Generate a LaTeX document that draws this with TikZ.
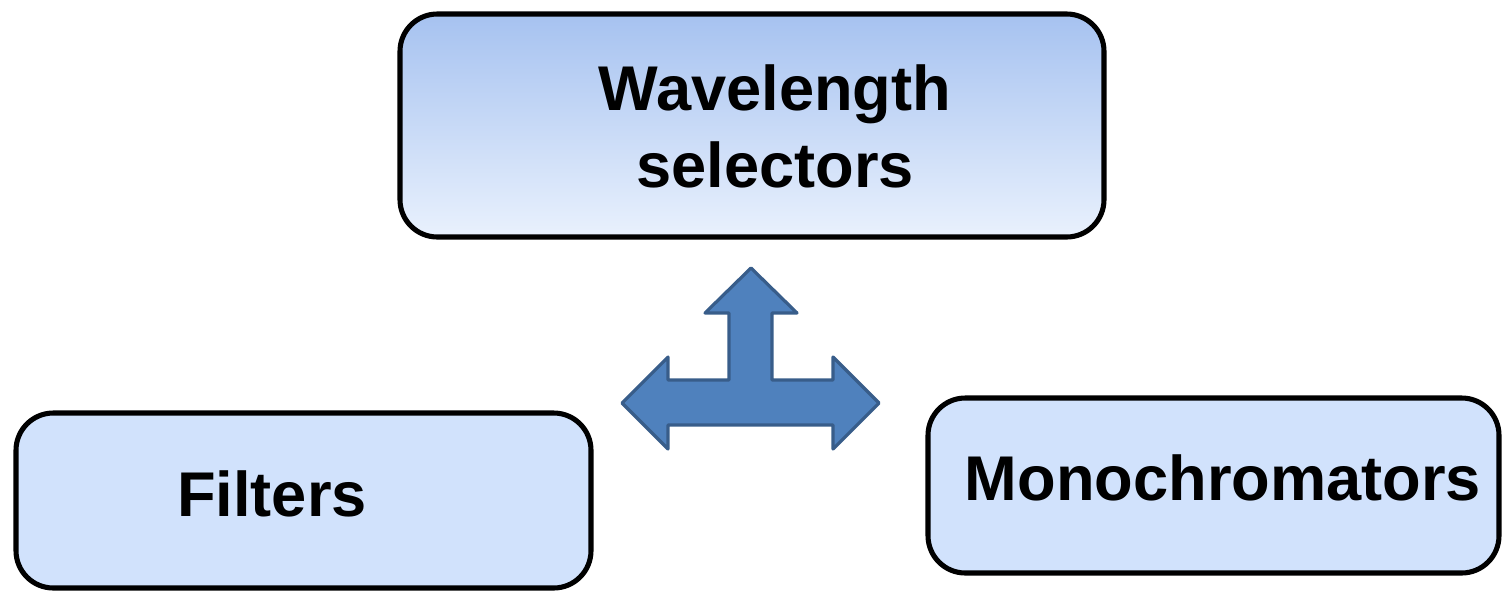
\documentclass[tikz,border=0pt]{standalone}
\usepackage{fontspec}
\setmainfont{Liberation Sans}
\begin{document}
\begin{tikzpicture}[x=0.75pt,y=-0.75pt,
  box/.style={draw=black,line width=3.8pt,rounded corners=28pt,inner sep=0pt,rectangle},
  lbl/.style={font=\fontsize{47.4}{57}\selectfont\bfseries,inner sep=0pt,anchor=base,align=center},
  arrowshape/.style={fill=arrowfill,draw=arrowline,line width=2.4pt,line join=round}]
\definecolor{topc}{RGB}{166,194,240}
\definecolor{botc}{RGB}{233,241,253}
\definecolor{boxfill}{RGB}{209,226,252}
\definecolor{arrowfill}{RGB}{79,129,189}
\definecolor{arrowline}{RGB}{56,93,138}
\useasboundingbox (0,0) rectangle (1503,590);
% boxes
\node[box,top color=topc,bottom color=botc,minimum width=528pt,minimum height=167.25pt] (wbox) at (752,125.5) {};
\node[box,fill=boxfill,minimum width=431.25pt,minimum height=131.25pt] (fbox) at (303.5,500.5) {};
\node[box,fill=boxfill,minimum width=428.25pt,minimum height=131.25pt] (mbox) at (1213.5,485.5) {};
% labels
\node[lbl] (wl) at (775,110) {Wavelength};
\node[lbl] (sl) at (775,187) {selectors};
\node[lbl] (fl) at (272,516) {Filters};
\node[lbl] (ml) at (1223,500) {Monochromators};
% three-way arrow
\draw[arrowshape] (751,268) -- (797,313) -- (772,313) -- (772,380) -- (833,380)
  -- (833,357) -- (879,403) -- (833,449) -- (833,425) -- (668,425) -- (668,449)
  -- (622,403) -- (668,357) -- (668,380) -- (729,380) -- (729,313) -- (705,313) -- cycle;
\end{tikzpicture}
\end{document}
